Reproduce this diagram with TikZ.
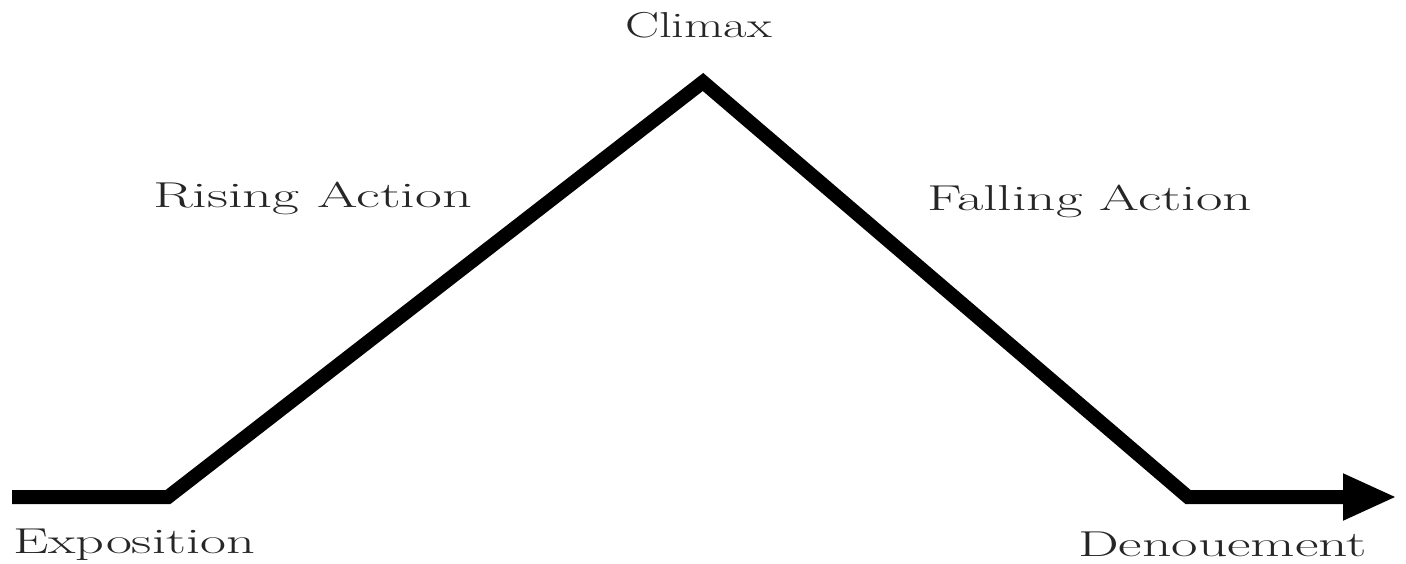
\documentclass[tikz,border=0pt]{standalone}
\usetikzlibrary{arrows.meta}
\usepackage{graphicx}
\definecolor{labelgray}{HTML}{262626}
\tikzset{
  plotline/.style={line width=14pt, line join=miter, line cap=butt, black},
  lbl/.style={anchor=base west, inner sep=0pt, outer sep=0pt, text=labelgray, font=\fontsize{36}{40}\selectfont}
}
\newcommand{\fitw}[2]{\resizebox{#1}{\height}{#2}}
\begin{document}
\begin{tikzpicture}[x=1pt,y=-1pt]
\useasboundingbox[fill=white] (0,0) rectangle (1406,564);
\coordinate (start) at (12,497);
\coordinate (expo) at (168,497);
\coordinate (climax) at (703,82);
\coordinate (fall) at (1188,497);
\coordinate (end) at (1397,497);
\draw[plotline, -{Triangle[length=54pt,width=43pt]}] (start) -- (expo) -- (climax) -- (fall) -- (end);
\node[lbl] (tClimax) at (625,38) {\fitw{147pt}{Climax}};
\node[lbl] (tRising) at (153,208) {\fitw{319pt}{Rising Action}};
\node[lbl] (tFalling) at (927,211) {\fitw{325pt}{Falling Action}};
\node[lbl] (tExpo) at (13,553) {\fitw{242pt}{Exposition}};
\node[lbl] (tDen) at (1078,556) {\fitw{289pt}{Denouement}};
\end{tikzpicture}
\end{document}
